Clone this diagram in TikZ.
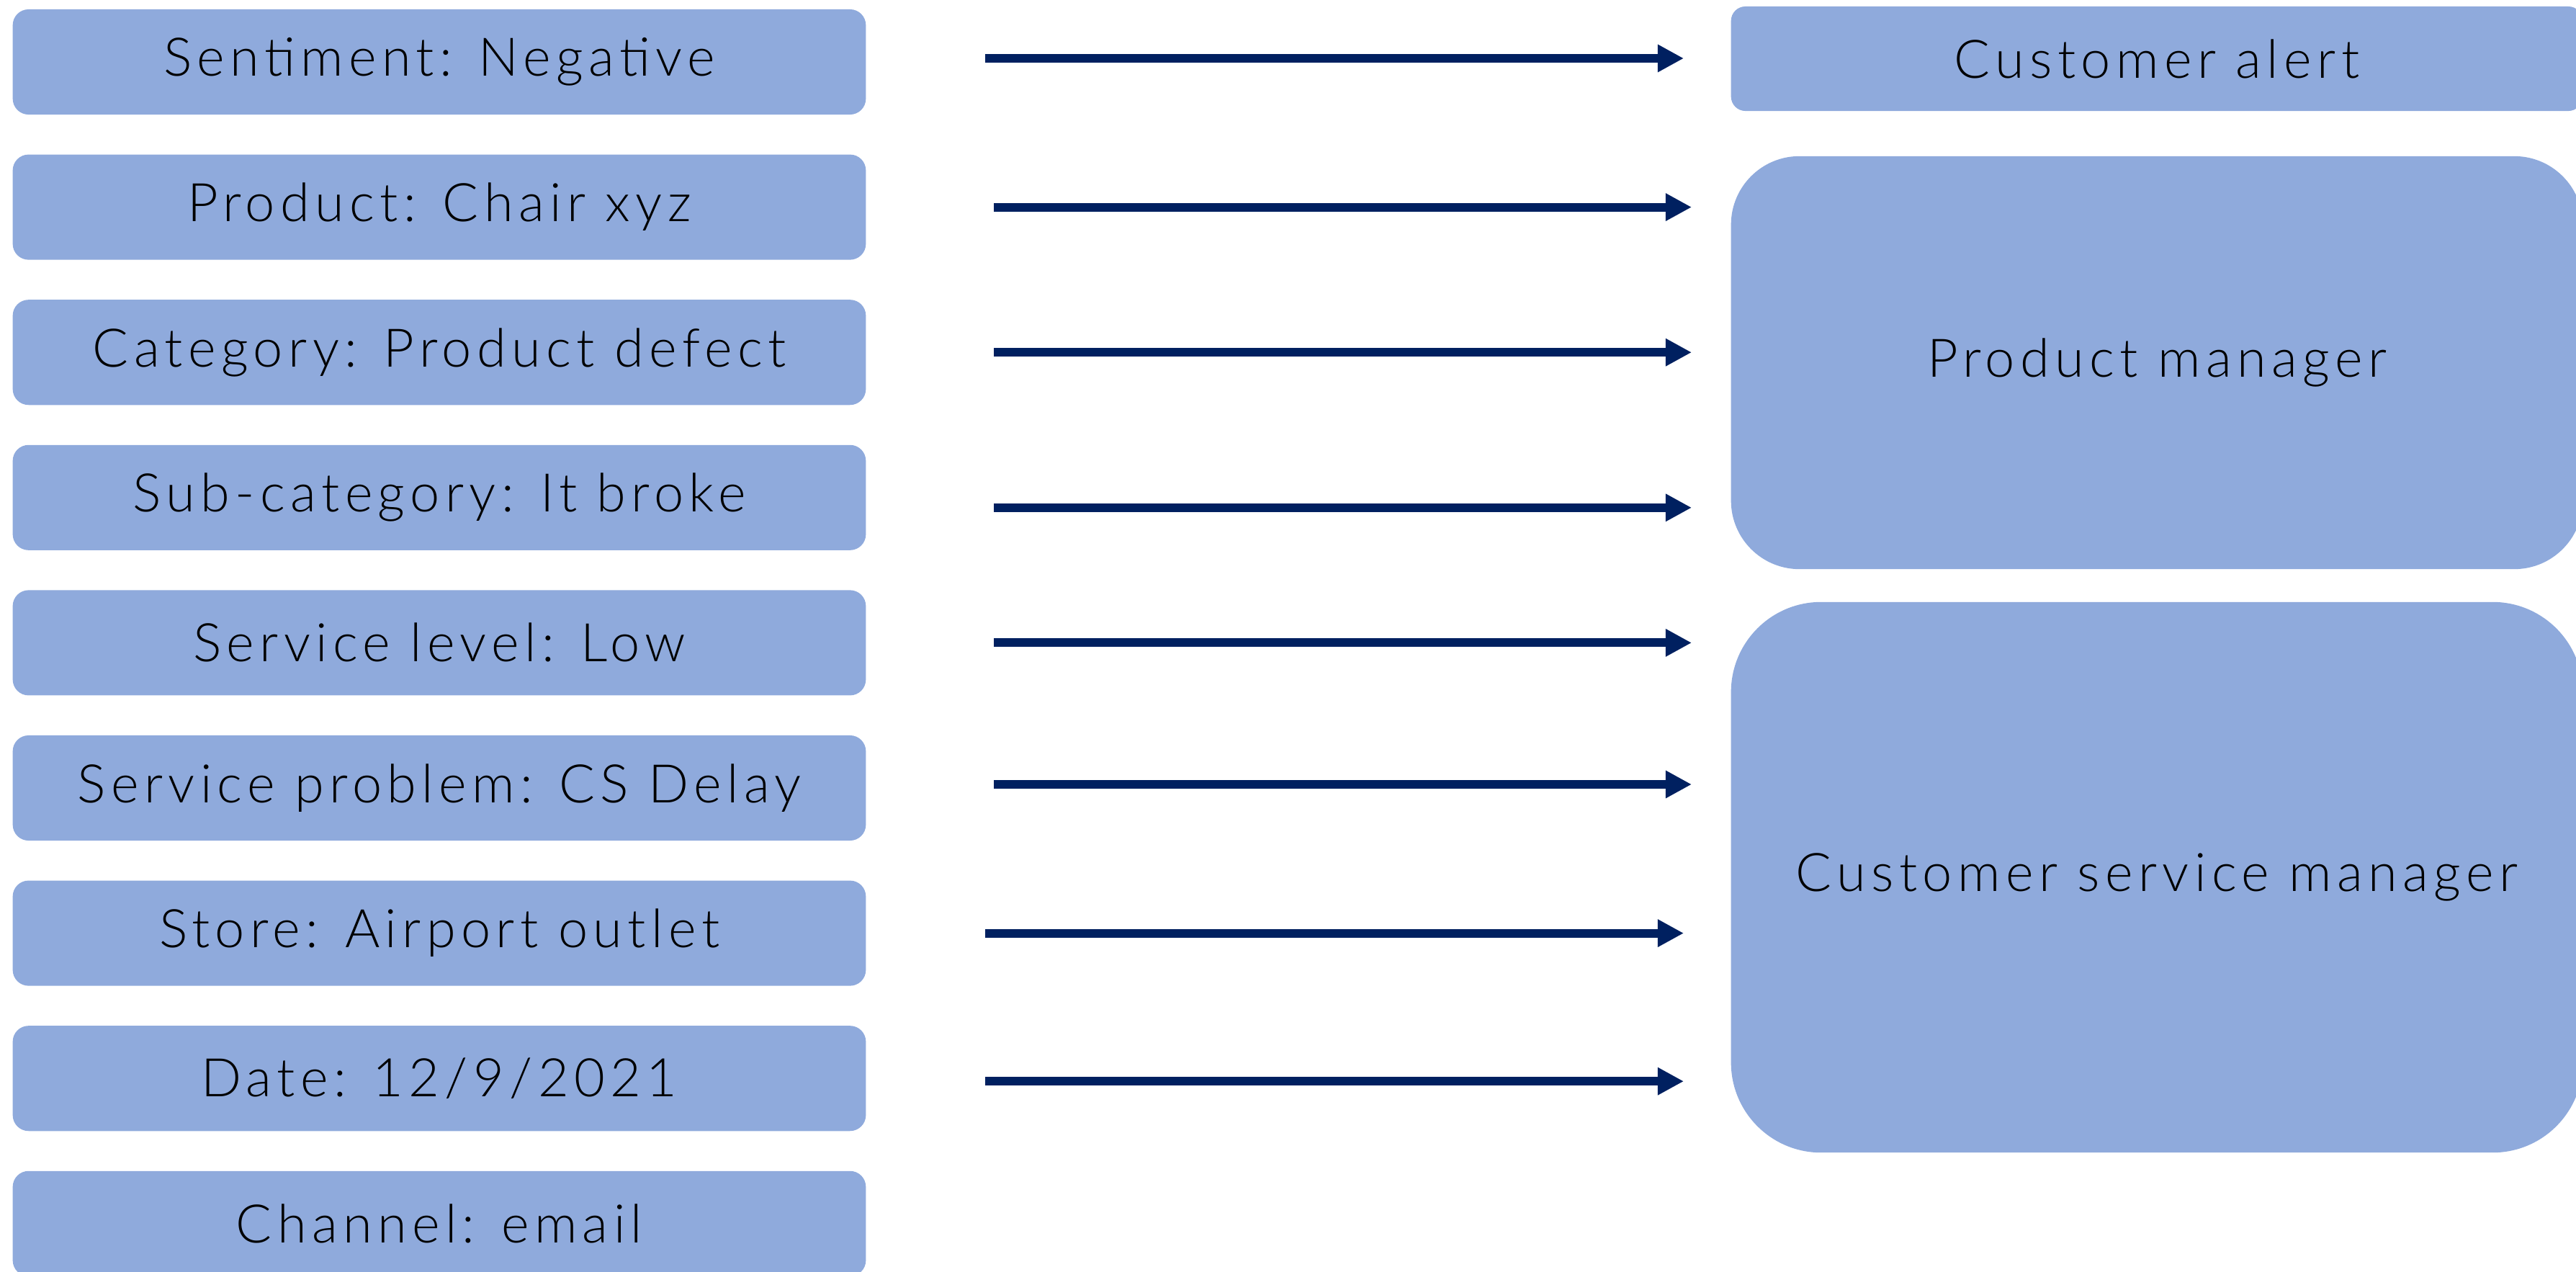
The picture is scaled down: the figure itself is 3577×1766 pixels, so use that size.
\documentclass[tikz,border=0pt]{standalone}
\usepackage{fontspec}
\setmainfont{Lato}[UprightFont=*-Light, LetterSpace=10]
\usetikzlibrary{arrows.meta}

\definecolor{boxblue}{HTML}{8FAADC}
\definecolor{arrownavy}{HTML}{002060}

\tikzset{
  tagbox/.style={fill=boxblue, rounded corners=0.22cm, inner sep=0pt,
    minimum width=11.84cm, minimum height=1.46cm,
    font=\fontsize{21}{25}\selectfont},
  rolebox/.style={fill=boxblue, inner sep=0pt, minimum width=11.82cm,
    font=\fontsize{21}{25}\selectfont},
  flow/.style={draw=arrownavy, line width=0.12cm,
    -{Triangle[length=0.36cm, width=0.36cm]}},
}

\begin{document}
\begin{tikzpicture}[x=0.01cm, y=-0.01cm]
  \pgfmathsetmacro\rowtop{86}
  \pgfmathsetmacro\rowstep{201.6}
  \pgfmathsetmacro\tagx{610}
  \pgfmathsetmacro\rolex{2995}

  \useasboundingbox (0,0) rectangle (3577,1766);

% attribute tags at left
  \node[tagbox] (sent)    at (\tagx,\rowtop)            {Sentiment: Negative};
  \node[tagbox] (prod)    at (\tagx,\rowtop+\rowstep)   {Product: Chair xyz};
  \node[tagbox] (cat)     at (\tagx,\rowtop+2*\rowstep) {Category: Product defect};
  \node[tagbox] (subcat)  at (\tagx,\rowtop+3*\rowstep) {Sub-category: It broke};
  \node[tagbox] (svclvl)  at (\tagx,\rowtop+4*\rowstep) {Service level: Low};
  \node[tagbox] (svcprob) at (\tagx,\rowtop+5*\rowstep) {Service problem: CS Delay};
  \node[tagbox] (store)   at (\tagx,\rowtop+6*\rowstep) {Store: Airport outlet};
  \node[tagbox] (date)    at (\tagx,\rowtop+7*\rowstep) {Date: 12/9/2021};
  \node[tagbox] (chan)    at (\tagx,\rowtop+8*\rowstep) {Channel: email};

% receivers at right
  \node[rolebox, minimum height=1.45cm, rounded corners=0.2cm]  (alert) at (\rolex,81.5) {Customer alert};
  \node[rolebox, minimum height=5.73cm, rounded corners=0.95cm] (pm)    at (\rolex,503.5) {Product manager};
  \node[rolebox, minimum height=7.64cm, rounded corners=1.25cm] (csm)   at (\rolex,1218) {Customer service manager};

% arrow ends
  \coordinate (tipa) at (2338,0);
  \coordinate (tipb) at (2349,0);

% routing arrows
  \draw[flow] ([xshift=1.65cm,yshift=0.05cm]sent.east) -- ([yshift=0.05cm]sent.east -| tipa);
  \draw[flow] ([xshift=1.77cm]prod.east)    -- (prod.east -| tipb);
  \draw[flow] ([xshift=1.77cm]cat.east)     -- (cat.east -| tipb);
  \draw[flow] ([xshift=1.77cm,yshift=-0.14cm]subcat.east) -- ([yshift=-0.14cm]subcat.east -| tipb);
  \draw[flow] ([xshift=1.77cm]svclvl.east)  -- (svclvl.east -| tipb);
  \draw[flow] ([xshift=1.77cm,yshift=0.05cm]svcprob.east) -- ([yshift=0.05cm]svcprob.east -| tipb);
  \draw[flow] ([xshift=1.65cm]store.east)   -- (store.east -| tipa);
  \draw[flow] ([xshift=1.65cm,yshift=-0.04cm]date.east) -- ([yshift=-0.04cm]date.east -| tipa);
\end{tikzpicture}
\end{document}
